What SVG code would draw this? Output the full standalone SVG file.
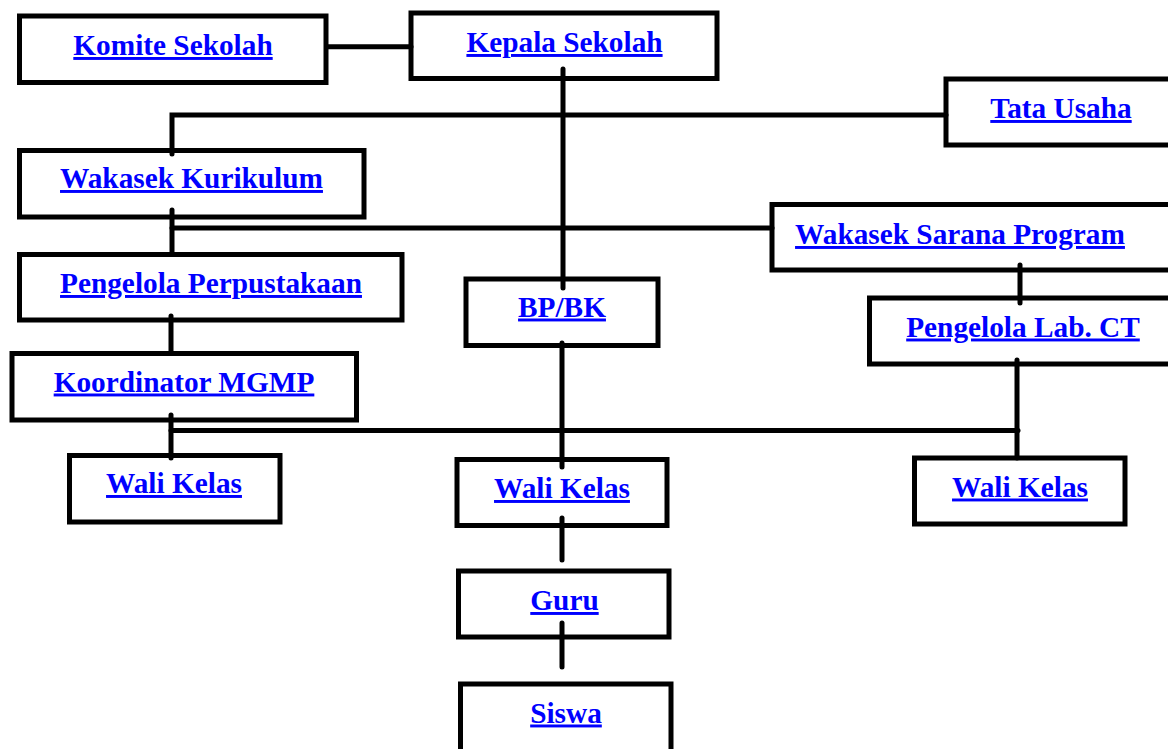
<svg xmlns="http://www.w3.org/2000/svg" width="1168" height="749" viewBox="0 0 1168 749">
<style>
.box{fill:#fff;stroke:#000;stroke-width:5}
.lbl{font-family:"Liberation Serif","Times New Roman",serif;font-weight:bold;font-size:29.3px;fill:#0000ff;text-decoration:underline;text-anchor:middle}
.con{fill:none;stroke:#000;stroke-width:5;stroke-linecap:round;stroke-linejoin:miter}
</style>
<rect width="1168" height="749" fill="#fff"/>
<g id="komite"><rect class="box" x="19.5" y="16" width="306.5" height="66.5"/><text class="lbl" x="173" y="55">Komite Sekolah</text></g>
<g id="kepala"><rect class="box" x="411" y="13" width="306" height="65.5"/><text class="lbl" x="564.5" y="52">Kepala Sekolah</text></g>
<g id="tata-usaha"><rect class="box" x="946" y="79" width="240" height="66"/><text class="lbl" x="1061" y="118">Tata Usaha</text></g>
<g id="wakasek-kurikulum"><rect class="box" x="19.5" y="150.5" width="344.5" height="66.5"/><text class="lbl" x="191.5" y="188">Wakasek Kurikulum</text></g>
<g id="wakasek-sarana"><rect class="box" x="772" y="204.5" width="420" height="65.5"/><text class="lbl" x="960" y="244">Wakasek Sarana Program</text></g>
<g id="perpustakaan"><rect class="box" x="19.5" y="254.5" width="382.5" height="65.5"/><text class="lbl" x="211" y="293">Pengelola Perpustakaan</text></g>
<g id="bpbk"><rect class="box" x="466" y="279" width="192" height="66.5"/><text class="lbl" x="562" y="316.5">BP/BK</text></g>
<g id="lab-ct"><rect class="box" x="869.5" y="298" width="320" height="66"/><text class="lbl" x="1023" y="336.5">Pengelola Lab. CT</text></g>
<g id="koordinator"><rect class="box" x="12" y="353.5" width="344.5" height="66.5"/><text class="lbl" x="184" y="391.5">Koordinator MGMP</text></g>
<g id="wali-kiri"><rect class="box" x="69.5" y="455.5" width="210.5" height="66.5"/><text class="lbl" x="174" y="493">Wali Kelas</text></g>
<g id="wali-tengah"><rect class="box" x="457" y="459.5" width="210" height="66"/><text class="lbl" x="562" y="498">Wali Kelas</text></g>
<g id="wali-kanan"><rect class="box" x="914.5" y="458" width="210.5" height="66"/><text class="lbl" x="1020" y="496.5">Wali Kelas</text></g>
<g id="guru"><rect class="box" x="458.5" y="571" width="210.5" height="66"/><text class="lbl" x="564.5" y="610">Guru</text></g>
<g id="siswa"><rect class="box" x="460.5" y="684" width="210.5" height="72"/><text class="lbl" x="566" y="722.5">Siswa</text></g>
<g id="connectors">
<path class="con" d="M328,46.7 H411"/>
<path class="con" d="M563,69 V288"/>
<path class="con" d="M172,154 V115 H946"/>
<path class="con" d="M172,210 V252"/>
<path class="con" d="M172,228 H772"/>
<path class="con" d="M171,316 V352"/>
<path class="con" d="M171,415 V458"/>
<path class="con" d="M171,430.5 H1018"/>
<path class="con" d="M562,343 V467"/>
<path class="con" d="M1020,265 V303"/>
<path class="con" d="M1017,360 V458"/>
<path class="con" d="M562,518 V560"/>
<path class="con" d="M562,623 V667"/>
</g>
</svg>
